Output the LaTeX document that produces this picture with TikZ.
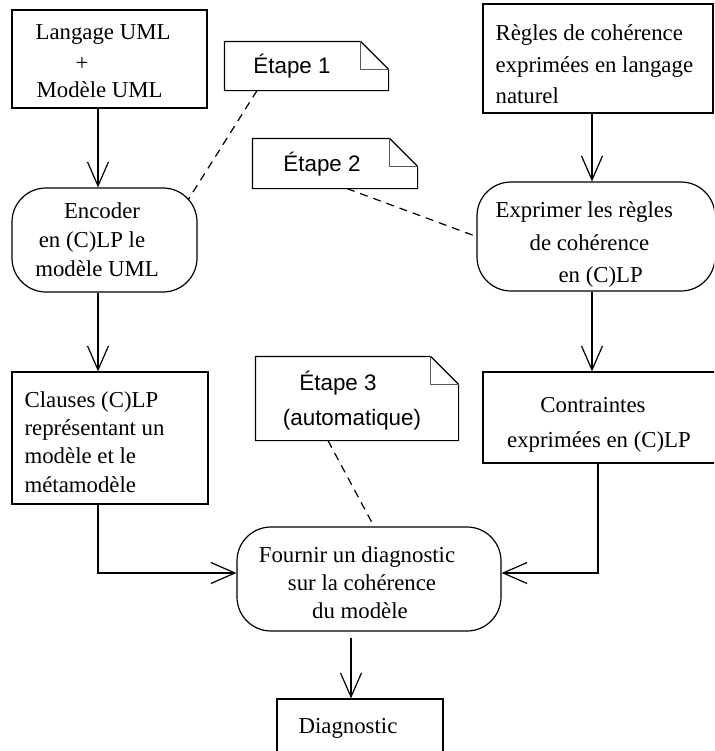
\documentclass[tikz,border=0pt]{standalone}
\usepackage{fontspec}
\setmainfont{Liberation Serif}
\newfontfamily\notefont{Liberation Sans}
\usetikzlibrary{arrows.meta,fit}
\begin{document}
\begin{tikzpicture}[x=0.5pt,y=-0.5pt, line width=0.6pt,
  box/.style={draw, inner sep=0pt},
  rbox/.style={draw, inner sep=0pt, rounded corners=17pt},
  ghost/.style={inner sep=0pt},
  txt/.style={inner sep=0pt, font=\fontsize{11.4}{14}\selectfont},
  ntxt/.style={inner sep=0pt, font=\notefont\fontsize{11.2}{14}\selectfont},
  arr/.style={-{Straight Barb[length=12pt,width=10.5pt]}},
  dsh/.style={dash pattern=on 4pt off 3pt}]
\clip (0,0) rectangle (714,751);

% shapes
\node[box,  fit={(12,10) (207,108)}] (b1) {};
\node[rbox, fit={(12,188) (197,292)}] (enc) {};
\node[ghost,fit={(225,42) (388,90)}] (n1) {};
\node[ghost,fit={(253,139) (417,188)}] (n2) {};
\node[box,  fit={(483,4) (713,113)}] (reg) {};
\node[rbox, fit={(477,182) (715,291)}] (exp) {};
\node[box,  fit={(12,372) (208,504)}] (clau) {};
\node[ghost,fit={(256,357) (458,440)}] (n3) {};
\node[box,  fit={(483,372) (716,463)}] (con) {};
\node[rbox, fit={(237,527) (501,631)}] (fou) {};
\node[box,  fit={(277,699) (443,770)}] (diag) {};

% note outlines with folded corner
\foreach \n in {n1,n2,n3} {
  \draw (\n.north west) -- ([xshift=-14pt]\n.north east) -- ([yshift=-14pt]\n.north east)
        -- (\n.south east) -- (\n.south west) -- cycle;
  \draw[gray!70!black] ([xshift=-14pt]\n.north east) |- ([yshift=-14pt]\n.north east);
}

% texts
\node[txt,anchor=base west] (t1a) at (35,39) {Langage UML};
\node[txt,anchor=base] (t1b) at (82,70) {+};
\node[txt,anchor=base west] (t1c) at (36,97) {Modèle UML};

\node[txt,anchor=base] (te1) at (102,218) {Encoder};
\node[txt,anchor=base] (te2) at (92,247) {en (C)LP le};
\node[txt,anchor=base] (te3) at (97,276) {modèle UML};

\node[ntxt,anchor=base] (tn1) at (292,73) {Étape 1};
\node[ntxt,anchor=base] (tn2) at (322,171) {Étape 2};
\node[ntxt,anchor=base] (tn3a) at (338,390) {Étape 3};
\node[ntxt,anchor=base] (tn3b) at (352,425) {(automatique)};

\node[txt,anchor=base west] (tr1) at (495,40) {Règles de cohérence};
\node[txt,anchor=base west] (tr2) at (495,72) {exprimées en langage};
\node[txt,anchor=base west] (tr3) at (495,103) {naturel};

\node[txt,anchor=base west] (tx1) at (495,217) {Exprimer les règles};
\node[txt,anchor=base west] (tx2) at (529,250) {de cohérence};
\node[txt,anchor=base west] (tx3) at (558,282) {en (C)LP};

\node[txt,anchor=base west] (tc1) at (24,407) {Clauses (C)LP};
\node[txt,anchor=base west] (tc2) at (24,435) {représentant un};
\node[txt,anchor=base west] (tc3) at (24,463) {modèle et le};
\node[txt,anchor=base west] (tc4) at (24,492) {métamodèle};

\node[txt,anchor=base] (tk1) at (593,412) {Contraintes};
\node[txt,anchor=base] (tk2) at (599,447) {exprimées en (C)LP};

\node[txt,anchor=base] (tf1) at (357,562) {Fournir un diagnostic};
\node[txt,anchor=base] (tf2) at (362,590) {sur la cohérence};
\node[txt,anchor=base] (tf3) at (360,618) {du modèle};

\node[txt,anchor=base] (td) at (348,733) {Diagnostic};

% helper coordinates
\coordinate (xl) at (98,0);
\coordinate (xm) at (592,0);
\coordinate (xr) at (598,0);
\coordinate (xd) at (351,0);
\coordinate (yj) at (0,573);
\coordinate (d1) at (257,0);
\coordinate (e1) at (188,200);
\coordinate (d2) at (347,0);
\coordinate (d3a) at (328,0);
\coordinate (d3b) at (374,0);

% connectors
\draw[arr] (b1.south -| xl) -- (enc.north -| xl);
\draw[arr] (enc.south -| xl) -- (clau.north -| xl);
\draw[arr] (reg.south -| xm) -- (exp.north -| xm);
\draw[arr] (exp.south -| xm) -- (con.north -| xm);
\draw[arr] (clau.south -| xl) |- (fou.west |- yj);
\draw[arr] (con.south -| xr) |- (fou.east |- yj);
\draw[arr, shorten <=3pt] (fou.south -| xd) -- (diag.north -| xd);

% dashed note links
\draw[dsh] (n1.south -| d1) -- (e1);
\draw[dsh] (n2.south -| d2) -- (exp.west);
\draw[dsh] (n3.south -| d3a) -- (fou.north -| d3b);
\end{tikzpicture}
\end{document}
